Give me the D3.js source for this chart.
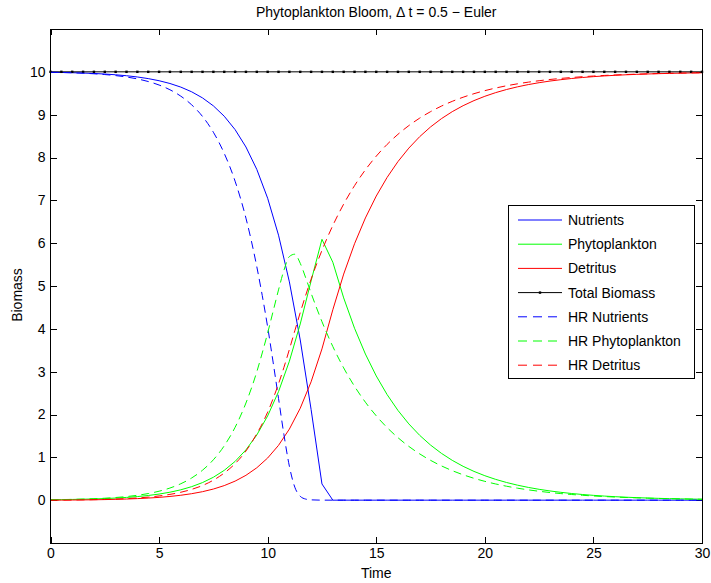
<!DOCTYPE html>
<html>
<head>
<meta charset="utf-8">
<script src="https://cdn.jsdelivr.net/npm/d3@7"></script>
<style>
  body { margin: 0; background: #fff; }
  text { font-family: "Liberation Sans", Arial, Helvetica, sans-serif; font-size: 14px; fill: #000; }
</style>
</head>
<body>
<div id="chart"></div>
<script>
// Euler run, dt = 0.5
var eulerTime = [0,0.5,1,1.5,2,2.5,3,3.5,4,4.5,5,5.5,6,6.5,7,7.5,8,8.5,9,9.5,10,10.5,11,11.5,12,12.5,
  13,13.5,14,14.5,15,15.5,16,16.5,17,17.5,18,18.5,19,19.5,20,20.5,21,21.5,22,22.5,23,23.5,24,24.5,25,25.5,
  26,26.5,27,27.5,28,28.5,29,29.5,30];
var eulerNutrients = [9.99,9.9855,9.9796,9.9719,9.9618,9.9486,9.9315,9.9091,9.8799,9.8419,9.7923,9.7277,9.6435,
  9.5338,9.391,9.2053,8.964,8.6509,8.2454,7.7217,7.048,6.1865,5.0959,3.7399,2.117,0.3784,
  0,0,0,0,0,0,0,0,0,0,0,0,0,0,0,0,0,0,0,0,0,0,0,0,0,0,0,0,0,0,0,0,0,0,0];
var eulerPhyto = [0.01,0.013,0.017,0.0222,0.029,0.0378,0.0493,0.0643,0.0838,0.1093,0.1425,0.1858,0.2421,0.3155,
  0.4109,0.535,0.696,0.9047,1.1744,1.5219,1.9674,2.5337,3.2443,4.1137,5.1195,6.0902,
  5.555,4.7218,4.0135,3.4115,2.8998,2.4648,2.0951,1.7808,1.5137,1.2866,1.0936,0.9296,0.7901,0.6716,0.5709,
  0.4852,0.4125,0.3506,0.298,0.2533,0.2153,0.183,0.1556,0.1322,0.1124,0.0955,0.0812,0.069,0.0587,0.0499,
  0.0424,0.036,0.0306,0.026,0.0221];
var eulerDetritus = [0,0.0015,0.0035,0.006,0.0093,0.0137,0.0194,0.0267,0.0364,0.049,0.0653,0.0867,0.1146,0.1509,
  0.1982,0.2599,0.3401,0.4445,0.5802,0.7564,0.9846,1.2798,1.6598,2.1465,2.7635,3.5314,
  4.445,5.2782,5.9865,6.5885,7.1002,7.5352,7.9049,8.2192,8.4863,8.7134,8.9064,9.0704,9.2099,9.3284,9.4291,
  9.5148,9.5875,9.6494,9.702,9.7467,9.7847,9.817,9.8444,9.8678,9.8876,9.9045,9.9188,9.931,9.9413,9.9501,
  9.9576,9.964,9.9694,9.974,9.9779];
var totalBiomass = [10,10,10,10,10,10,10,10,10,10,10,10,10,10,10,10,10,10,10,10,10,10,10,10,10,10,
  10,10,10,10,10,10,10,10,10,10,10,10,10,10,10,10,10,10,10,10,10,10,10,10,10,10,10,10,10,10,10,10,10,10,10];

// high resolution run
var hrTime = [0,0.5,1,1.5,2,2.5,3,3.5,4,4.5,5,5.5,6,6.5,7,7.5,8,8.5,9,9.5,
  9.75,10,10.25,10.5,10.75,11,11.25,11.5,11.75,12,
  12.5,13,13.5,14,14.5,15,15.5,16,16.5,17,17.5,18,18.5,19,19.5,20,20.5,21,21.5,22,22.5,23,23.5,24,24.5,
  25,25.5,26,26.5,27,27.5,28,28.5,29,29.5,30];
var hrNutrients = [9.99,9.9847,9.9775,9.9679,9.9546,9.9366,9.9122,9.8793,9.8346,9.774,9.692,9.5816,9.432,9.23,
  8.958,8.59,8.097,7.447,6.584,5.45,
  4.779,4.041,3.224,2.375,1.527,0.792,0.303,0.091,0.0255,0.0073,
  0.0007,0.0001,0,0,0,0,0,0,0,0,0,0,0,0,0,0,0,0,0,0,0,0,0,0,0,0,0,0,0,0,0,0,0,0,0,0];
var hrPhyto = [0.01,0.0136,0.0184,0.0249,0.0338,0.0458,0.0621,0.0842,0.114,0.1545,0.2092,0.2833,0.3833,0.518,
  0.6995,0.9431,1.2691,1.7007,2.2682,2.998,
  3.4365,3.9034,4.4069,4.9095,5.3706,5.6882,5.742,5.5298,5.194,4.833,
  4.168,3.5874,3.0877,2.6576,2.2874,1.9688,1.6946,1.4585,1.2554,1.0805,0.93,0.8005,0.689,0.593,0.5104,
  0.4393,0.3781,0.3254,0.2801,0.2411,0.2075,0.1786,0.1537,0.1323,0.1139,0.098,0.0844,0.0726,0.0625,0.0538,
  0.0463,0.0398,0.0343,0.0295,0.0254,0.0219];
var hrDetritus = [0,0.0017,0.0041,0.0072,0.0116,0.0176,0.0257,0.0365,0.0514,0.0715,0.0988,0.1351,0.1847,0.252,
  0.3425,0.4669,0.6339,0.8523,1.1478,1.552,
  1.7845,2.0556,2.3691,2.7155,3.1024,3.5198,3.955,4.3792,4.7805,5.1597,
  5.8313,6.4125,6.9123,7.3424,7.7126,8.0312,8.3054,8.5415,8.7446,8.9195,9.07,9.1995,9.311,9.407,9.4896,
  9.5607,9.6219,9.6746,9.7199,9.7589,9.7925,9.8214,9.8463,9.8677,9.8861,9.902,9.9156,9.9274,9.9375,9.9462,
  9.9537,9.9602,9.9657,9.9705,9.9746,9.9781];

var xTicks = [0,5,10,15,20,25,30];
var yTicks = [0,1,2,3,4,5,6,7,8,9,10];

var width = 711, height = 583;
var plotLeft = 50.5, plotRight = 702, plotTop = 29, plotBottom = 543;

var svg = d3.select("#chart").append("svg")
  .attr("width", width)
  .attr("height", height);

svg.append("rect").attr("width", width).attr("height", height).attr("fill", "#fff");

var x = d3.scaleLinear().domain([0, 30]).range([plotLeft, plotRight]);
var y = d3.scaleLinear().domain([-1, 11]).range([plotBottom, plotTop]);

// axes, ticks inside the box like matlab
var gx = svg.append("g").attr("transform", "translate(0," + plotBottom + ")")
  .call(d3.axisBottom(x).tickValues(xTicks).tickSizeInner(-6).tickSizeOuter(0).tickPadding(5));
var gxTop = svg.append("g").attr("transform", "translate(0," + plotTop + ")")
  .call(d3.axisTop(x).tickValues(xTicks).tickSizeInner(-6).tickSizeOuter(0).tickFormat(""));
var gy = svg.append("g").attr("transform", "translate(" + plotLeft + ",0)")
  .call(d3.axisLeft(y).tickValues(yTicks).tickSizeInner(-6).tickSizeOuter(0).tickPadding(5));
var gyRight = svg.append("g").attr("transform", "translate(" + plotRight + ",0)")
  .call(d3.axisRight(y).tickValues(yTicks).tickSizeInner(-6).tickSizeOuter(0).tickFormat(""));

[gx, gxTop, gy, gyRight].forEach(function(g) {
  g.select(".domain").remove();
  g.selectAll("line").attr("stroke", "#000").attr("shape-rendering", "crispEdges");
  g.selectAll("text").attr("font-size", 14).attr("font-family", null).style("fill", "#000");
});

var lineDefs = [
  {name: "Nutrients", t: eulerTime, v: eulerNutrients, color: "#0000ff", dash: null, curve: d3.curveLinear},
  {name: "Phytoplankton", t: eulerTime, v: eulerPhyto, color: "#00ff00", dash: null, curve: d3.curveLinear},
  {name: "Detritus", t: eulerTime, v: eulerDetritus, color: "#ff0000", dash: null, curve: d3.curveLinear},
  {name: "Total Biomass", t: eulerTime, v: totalBiomass, color: "#000000", dash: null, curve: d3.curveLinear, dots: true},
  {name: "HR Nutrients", t: hrTime, v: hrNutrients, color: "#0000ff", dash: "8,5", curve: d3.curveMonotoneX},
  {name: "HR Phytoplankton", t: hrTime, v: hrPhyto, color: "#00ff00", dash: "8,5", curve: d3.curveMonotoneX},
  {name: "HR Detritus", t: hrTime, v: hrDetritus, color: "#ff0000", dash: "8,5", curve: d3.curveMonotoneX}
];

var plot = svg.append("g");

lineDefs.forEach(function(s) {
  var pts = s.t.map(function(t, i) { return [t, s.v[i]]; });
  var line = d3.line()
    .x(function(d) { return x(d[0]); })
    .y(function(d) { return y(d[1]); })
    .curve(s.curve);
  plot.append("path")
    .datum(pts)
    .attr("d", line)
    .attr("fill", "none")
    .attr("stroke", s.color)
    .attr("stroke-width", 1)
    .attr("stroke-dasharray", s.dash);
  if (s.dots) {
    plot.selectAll(".dot").data(pts).enter()
      .append("rect")
      .attr("x", function(d) { return x(d[0]) - 1.2; })
      .attr("y", function(d) { return y(d[1]) - 1.2; })
      .attr("width", 2.4)
      .attr("height", 2.4)
      .attr("fill", "#000");
  }
});

// box
svg.append("rect")
  .attr("x", plotLeft).attr("y", plotTop)
  .attr("width", plotRight - plotLeft).attr("height", plotBottom - plotTop)
  .attr("fill", "none").attr("stroke", "#000").attr("stroke-width", 1)
  .attr("shape-rendering", "crispEdges");

// labels
svg.append("text").attr("x", (plotLeft + plotRight) / 2).attr("y", 17)
  .attr("text-anchor", "middle").text("Phytoplankton Bloom, \u0394 t = 0.5 \u2212 Euler");
svg.append("text").attr("x", (plotLeft + plotRight) / 2).attr("y", 578)
  .attr("text-anchor", "middle").text("Time");
svg.append("text").attr("transform", "translate(22,295) rotate(-90)")
  .attr("text-anchor", "middle").text("Biomass");

// legend
var legendX = 508.5, legendY = 205.5, rowH = 24.2;
var legend = svg.append("g");
legend.append("rect")
  .attr("x", legendX).attr("y", legendY)
  .attr("width", 186).attr("height", 173)
  .attr("fill", "#fff").attr("stroke", "#000").attr("stroke-width", 1)
  .attr("shape-rendering", "crispEdges");

var item = legend.selectAll(".item").data(lineDefs).enter()
  .append("g")
  .attr("transform", function(d, i) { return "translate(0," + (220 + i * rowH) + ")"; });
item.append("line")
  .attr("x1", 518).attr("x2", 562).attr("y1", 0).attr("y2", 0)
  .attr("stroke", function(d) { return d.color; })
  .attr("stroke-width", 1)
  .attr("stroke-dasharray", function(d) { return d.dash ? "9,6" : null; });
item.filter(function(d) { return d.dots; })
  .append("rect")
  .attr("x", 538.8).attr("y", -1.2).attr("width", 2.4).attr("height", 2.4).attr("fill", "#000");
item.append("text")
  .attr("x", 568).attr("dy", "0.35em")
  .text(function(d) { return d.name; });
</script>
</body>
</html>
